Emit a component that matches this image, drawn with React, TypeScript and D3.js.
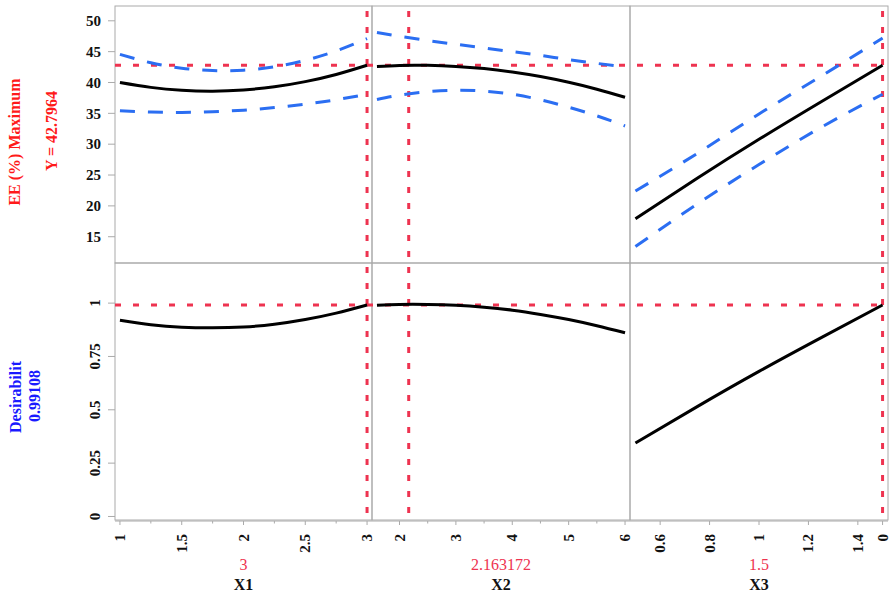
import React from "react";
import * as d3 from "d3";

// ---- data ----
const X1_VALUES = [1, 1.25, 1.5, 1.75, 2, 2.25, 2.5, 2.75, 3];
const EE_X1 = [40.0, 39.21, 38.74, 38.6, 38.79, 39.3, 40.14, 41.3, 42.7964];
const EE_X1_UPPER = [44.55, 43.2, 42.32, 41.93, 42.0, 42.56, 43.6, 45.11, 47.1];
const EE_X1_LOWER = [35.4, 35.2, 35.15, 35.26, 35.52, 35.94, 36.5, 37.2, 38.1];
const DES_X1 = [0.92, 0.899, 0.887, 0.884, 0.888, 0.901, 0.923, 0.953, 0.99108];

const X2_VALUES = [1.6, 2, 2.5, 3, 3.5, 4, 4.5, 5, 5.5, 6];
const EE_X2 = [42.61, 42.77, 42.78, 42.61, 42.25, 41.7, 40.96, 40.03, 38.91, 37.6];
const EE_X2_UPPER = [48.1, 47.5, 46.8, 46.2, 45.6, 45.0, 44.4, 43.7, 43.1, 42.5];
const EE_X2_LOWER = [37.25, 37.95, 38.5, 38.75, 38.6, 38.1, 37.2, 36.0, 34.6, 32.95];
const DES_X2 = [0.99, 0.994, 0.994, 0.99, 0.981, 0.967, 0.947, 0.923, 0.894, 0.861];

const X3_VALUES = [0.5, 0.75, 1.0, 1.25, 1.5];
const EE_X3 = [17.9, 24.48, 30.8, 36.85, 42.7964];
const EE_X3_UPPER = [22.4, 28.5, 34.9, 41.0, 47.2];
const EE_X3_LOWER = [13.4, 20.3, 26.7, 32.7, 38.1];
const DES_X3 = [0.344, 0.515, 0.68, 0.837, 0.99108];

const FACTOR_NAMES = ["X1", "X2", "X3"];
const CURRENT_X = [3, 2.163172, 1.5];
const CURRENT_X_LABELS = ["3", "2.163172", "1.5"];
const CURRENT_EE = 42.7964;
const CURRENT_DES = 0.99108;

const X1_TICKS = [1, 1.5, 2, 2.5, 3];
const X1_TICK_LABELS = ["1", "1.5", "2", "2.5", "3"];
const X1_MINOR = [1.25, 1.75, 2.25, 2.75];
const X2_TICKS = [2, 3, 4, 5, 6];
const X2_TICK_LABELS = ["2", "3", "4", "5", "6"];
const X2_MINOR = [2.5, 3.5, 4.5, 5.5];
const X3_TICKS = [0.6, 0.8, 1, 1.2, 1.4, 1.5];
const X3_TICK_LABELS = ["0.6", "0.8", "1", "1.2", "1.4", "0"];
const X3_MINOR: number[] = [];

const EE_TICKS = [15, 20, 25, 30, 35, 40, 45, 50];
const DES_TICKS = [0, 0.25, 0.5, 0.75, 1];
const DES_TICK_LABELS = ["0", "0.25", "0.5", "0.75", "1"];

// ---- layout ----
const W = 894;
const H = 594;
const COL_EDGES = [115, 372, 630, 888];
const ROW_EDGES = [6, 263, 520];
const X_DOMAINS: [number, number][] = [
  [0.96, 3.04],
  [1.512, 6.088],
  [0.478, 1.522],
];

const RED = "#ee3350";
const BLUE = "#2b6ef2";
const GRAY = "#aaaaaa";
const FONT = "'Liberation Serif', 'Times New Roman', serif";

export default function App() {
  const xScales = X_DOMAINS.map((dom, i) =>
    d3.scaleLinear().domain(dom).range([COL_EDGES[i], COL_EDGES[i + 1]])
  );
  const yEE = d3.scaleLinear().domain([10.74, 52.4]).range([ROW_EDGES[1], ROW_EDGES[0]]);
  const yDes = d3.scaleLinear().domain([-0.0165, 1.188]).range([ROW_EDGES[2], ROW_EDGES[1]]);

  const factors = [
    { xs: X1_VALUES, ee: EE_X1, up: EE_X1_UPPER, lo: EE_X1_LOWER, des: DES_X1, ticks: X1_TICKS, labels: X1_TICK_LABELS, minor: X1_MINOR },
    { xs: X2_VALUES, ee: EE_X2, up: EE_X2_UPPER, lo: EE_X2_LOWER, des: DES_X2, ticks: X2_TICKS, labels: X2_TICK_LABELS, minor: X2_MINOR },
    { xs: X3_VALUES, ee: EE_X3, up: EE_X3_UPPER, lo: EE_X3_LOWER, des: DES_X3, ticks: X3_TICKS, labels: X3_TICK_LABELS, minor: X3_MINOR },
  ];

  const mkLine = (xs: d3.ScaleLinear<number, number>, ys: d3.ScaleLinear<number, number>, xv: number[], yv: number[]) =>
    d3
      .line<number>()
      .x((_, i) => xs(xv[i]))
      .y((v) => ys(v))
      .curve(d3.curveNatural)(yv) || "";

  const x0 = COL_EDGES[0];
  const x3 = COL_EDGES[3];
  const axisY = ROW_EDGES[2] + 1;

  return (
    <svg
      width={W}
      height={H}
      style={{ position: "absolute", left: 0, top: 0, background: "#fff" }}
      fontFamily={FONT}
    >
      <rect x={0} y={0} width={W} height={H} fill="#fff" />

      {/* panel frames */}
      {[0, 1].map((r) =>
        [0, 1, 2].map((c) => (
          <rect
            key={`f${r}${c}`}
            x={COL_EDGES[c]}
            y={ROW_EDGES[r]}
            width={COL_EDGES[c + 1] - COL_EDGES[c]}
            height={ROW_EDGES[r + 1] - ROW_EDGES[r]}
            fill="none"
            stroke={GRAY}
            strokeWidth={1}
          />
        ))
      )}

      {/* y axis ticks & labels: EE */}
      {EE_TICKS.map((t) => (
        <g key={`ee${t}`}>
          <line x1={x0 - 7} x2={x0} y1={yEE(t)} y2={yEE(t)} stroke={GRAY} />
          <text x={x0 - 14} y={yEE(t)} dy="0.35em" textAnchor="end" fontSize={15} fontWeight="bold" fill="#111">
            {t}
          </text>
        </g>
      ))}
      {/* y axis ticks & labels: desirability */}
      {DES_TICKS.map((t, i) => (
        <g key={`d${t}`}>
          <line x1={x0 - 7} x2={x0} y1={yDes(t)} y2={yDes(t)} stroke={GRAY} />
          <text
            transform={`translate(${x0 - 15},${yDes(t)}) rotate(-90)`}
            textAnchor="middle"
            fontSize={15}
            fontWeight="bold"
            fill="#111"
          >
            {DES_TICK_LABELS[i]}
          </text>
        </g>
      ))}

      {/* red reference lines */}
      <line x1={x0} x2={x3} y1={yEE(CURRENT_EE)} y2={yEE(CURRENT_EE)} stroke={RED} strokeWidth={3} strokeDasharray="6,12" />
      <line x1={x0} x2={x3} y1={yDes(CURRENT_DES)} y2={yDes(CURRENT_DES)} stroke={RED} strokeWidth={3} strokeDasharray="6,12" />
      {CURRENT_X.map((v, i) => (
        <line
          key={`rv${i}`}
          x1={xScales[i](v)}
          x2={xScales[i](v)}
          y1={ROW_EDGES[0] + 5}
          y2={ROW_EDGES[2]}
          stroke={RED}
          strokeWidth={3}
          strokeDasharray="6,10"
        />
      ))}

      {/* curves */}
      {factors.map((f, i) => (
        <g key={`c${i}`} fill="none">
          <path d={mkLine(xScales[i], yEE, f.xs, f.up)} stroke={BLUE} strokeWidth={3} strokeDasharray="15,13" />
          <path d={mkLine(xScales[i], yEE, f.xs, f.lo)} stroke={BLUE} strokeWidth={3} strokeDasharray="15,13" />
          <path d={mkLine(xScales[i], yEE, f.xs, f.ee)} stroke="#000" strokeWidth={3} />
          <path d={mkLine(xScales[i], yDes, f.xs, f.des)} stroke="#000" strokeWidth={3} />
        </g>
      ))}

      {/* x axes */}
      {factors.map((f, i) => {
        const xs = xScales[i];
        const cx = (COL_EDGES[i] + COL_EDGES[i + 1]) / 2;
        return (
          <g key={`xa${i}`}>
            <line x1={COL_EDGES[i]} x2={COL_EDGES[i + 1]} y1={axisY} y2={axisY} stroke={GRAY} />
            {f.ticks.map((t) => (
              <line key={`t${t}`} x1={xs(t)} x2={xs(t)} y1={axisY} y2={axisY + 4} stroke={GRAY} />
            ))}
            {f.minor.map((t) => (
              <line key={`m${t}`} x1={xs(t)} x2={xs(t)} y1={axisY} y2={axisY + 2.5} stroke={GRAY} />
            ))}
            {f.ticks.map((t, k) => (
              <text
                key={`l${t}`}
                transform={`translate(${xs(t) + 5},${axisY + 13}) rotate(-90)`}
                textAnchor="end"
                fontSize={15}
                fontWeight="bold"
                fill="#111"
              >
                {f.labels[k]}
              </text>
            ))}
            <text x={cx} y={570} textAnchor="middle" fontSize={16} fill={RED}>
              {CURRENT_X_LABELS[i]}
            </text>
            <text x={cx} y={590} textAnchor="middle" fontSize={16} fontWeight="bold" fill="#111">
              {FACTOR_NAMES[i]}
            </text>
          </g>
        );
      })}

      {/* left labels */}
      <text transform="translate(19.5,142) rotate(-90)" textAnchor="middle" fontSize={16} fontWeight="bold" fill="#ff1a1a">
        EE (%) Maximum
      </text>
      <text transform="translate(57,131) rotate(-90)" textAnchor="middle" fontSize={16} fontWeight="bold" fill="#ff1a1a">
        {`Y = ${CURRENT_EE}`}
      </text>
      <text transform="translate(20.5,397) rotate(-90)" textAnchor="middle" fontSize={16} fontWeight="bold" fill="#1a1aff">
        Desirabilit
      </text>
      <text transform="translate(40,396) rotate(-90)" textAnchor="middle" fontSize={16} fontWeight="bold" fill="#1a1aff">
        {`${CURRENT_DES}`}
      </text>
    </svg>
  );
}
